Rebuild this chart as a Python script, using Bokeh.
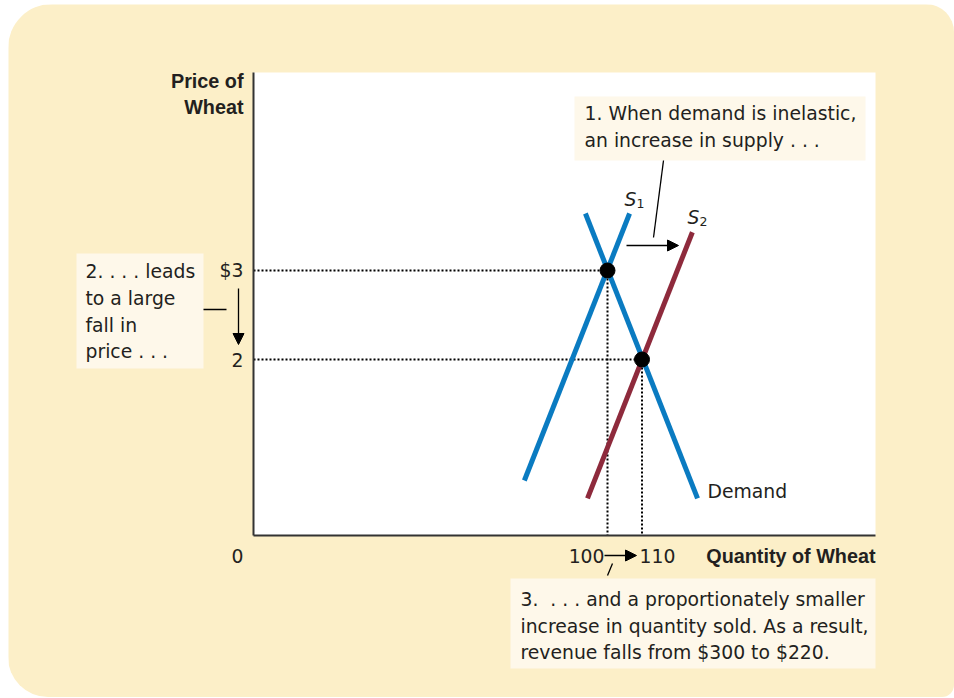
from bokeh.plotting import figure
from bokeh.models import Range1d, Arrow, NormalHead
from bokeh.core.properties import value
from bokeh.embed import file_html
from bokeh.resources import INLINE

# ---------------- data ----------------
price_ticks = [2, 3]
price_tick_labels = ["2", "$3"]
quantity_ticks = [100, 110]
quantity_tick_labels = ["100", "110"]

demand_q = [93.6, 126.1]
demand_p = [3.64, 0.44]
s1_q = [75.9, 106.4]
s1_p = [0.64, 3.64]
s2_q = [94.2, 124.6]
s2_p = [0.44, 3.43]
eq_q = [100, 110]
eq_p = [3, 2]

# ---------------- layout (page pixels -> data) ----------------
PX_Q = 3.45   # pixels per unit of quantity
PX_P = 89.0   # pixels per unit of price


def X(px):
    return 100 + (px - 607) / PX_Q


def Y(py):
    return 3 - (py - 270) / PX_P


LEFT, TOP, RIGHT, BOTTOM = 8, 4, 954, 697
W, H = RIGHT - LEFT, BOTTOM - TOP

BEIGE = "#FCEFC8"
BOXC = "#FEF8EA"
BLUE = "#0A7BC1"
RED = "#8E2A3C"
INK = "#231F20"
REG = "DejaVu Sans"
BOLD = "Liberation Sans"
FS = "18.8px"

p = figure(width=W, height=H, x_range=Range1d(X(LEFT), X(RIGHT)), y_range=Range1d(Y(BOTTOM), Y(TOP)),
           output_backend="svg", toolbar_location=None, min_border=0,
           background_fill_color=BEIGE, border_fill_color=BEIGE, outline_line_color=None)
p.styles = {"margin-left": "8px", "margin-top": "4px",
            "border-radius": "44px 28px 12px 40px", "overflow": "hidden"}
p.xgrid.visible = False
p.ygrid.visible = False
p.xaxis.visible = False
p.yaxis.visible = False

# plot area
x_lo, x_hi = X(253), X(875)
y_lo, y_hi = Y(535), Y(72)
p.quad(left=[x_lo], right=[x_hi], bottom=[y_lo], top=[y_hi], fill_color="white", line_color=None)

# text boxes
p.quad(left=[X(574), X(76), X(510)], right=[X(865), X(203), X(875)],
       top=[Y(96), Y(253), Y(578)], bottom=[Y(160), Y(368), Y(668)],
       fill_color=BOXC, line_color=None)

# dotted guides
p.segment(x0=[x_lo] * 2, y0=eq_p, x1=eq_q, y1=eq_p, line_color="black", line_width=2, line_dash="2 2")
p.segment(x0=eq_q, y0=eq_p, x1=eq_q, y1=[y_lo] * 2, line_color="black", line_width=2, line_dash="2 2")

# axes
p.segment(x0=[x_lo, x_lo], y0=[y_lo, y_lo], x1=[x_lo, x_hi], y1=[y_hi, y_lo],
          line_color="#333333", line_width=2)

# curves
p.line(s1_q, s1_p, line_color=BLUE, line_width=5)
p.line(demand_q, demand_p, line_color=BLUE, line_width=5)
p.line(s2_q, s2_p, line_color=RED, line_width=5)
p.scatter(eq_q, eq_p, size=15, color="black")


def lab(text, x, y, align="left", font=REG, size=FS, style="normal"):
    p.text(x=[x], y=[y], text=[text], text_align=align, text_baseline="middle",
           text_font=value(font), text_font_size=value(size), text_font_style=style,
           text_color=INK)


def line(x1, y1, x2, y2, head=False, w=1.3):
    p.add_layout(Arrow(x_start=X(x1), y_start=Y(y1), x_end=X(x2), y_end=Y(y2),
                       line_color="black", line_width=w,
                       end=NormalHead(size=11, fill_color="black", line_color="black") if head else None))


# tick labels
for t, l in zip(price_ticks, price_tick_labels):
    lab(l, X(243), t, align="right")
lab("0", X(237), Y(555), align="center")
lab(quantity_tick_labels[0], X(604), Y(555), align="right")
lab(quantity_tick_labels[1], X(639), Y(555), align="left")
line(604, 555, 636, 555, head=True)
line(612, 563, 607, 575)

# axis titles
lab("Price of", X(243), Y(80), align="right", font=BOLD, size="19.8px", style="bold")
lab("Wheat", X(243), Y(106), align="right", font=BOLD, size="19.8px", style="bold")
lab("Quantity of Wheat", X(875), Y(555), align="right", font=BOLD, size="19.8px", style="bold")

# curve labels
lab("S", X(624), Y(198.5), style="italic")
lab("1", X(636), Y(203), size="12.5px")
lab("S", X(687), Y(216.5), style="italic")
lab("2", X(699), Y(221), size="12.5px")
lab("Demand", X(707), Y(491))

# annotation 1
lab("1. When demand is inelastic,", X(584), Y(112.5))
lab("an increase in supply . . .", X(584), Y(139.5))
line(663, 160, 653, 237)
line(626, 245, 678, 245, head=True)

# annotation 2
lab("2. . . . leads", X(85), Y(270.5))
lab("to a large", X(85), Y(297.5))
lab("fall in", X(85), Y(324.5))
lab("price . . .", X(85), Y(351))
line(203, 309, 226, 309)
line(238, 288, 238, 344, head=True)

# annotation 3
lab("3.\u00a0 . . . and a proportionately smaller", X(520), Y(598.5))
lab("increase in quantity sold. As a result,", X(520), Y(625.5))
lab("revenue falls from $300 to $220.", X(520), Y(651.5))

open("out.html", "w").write(file_html(p, INLINE))
